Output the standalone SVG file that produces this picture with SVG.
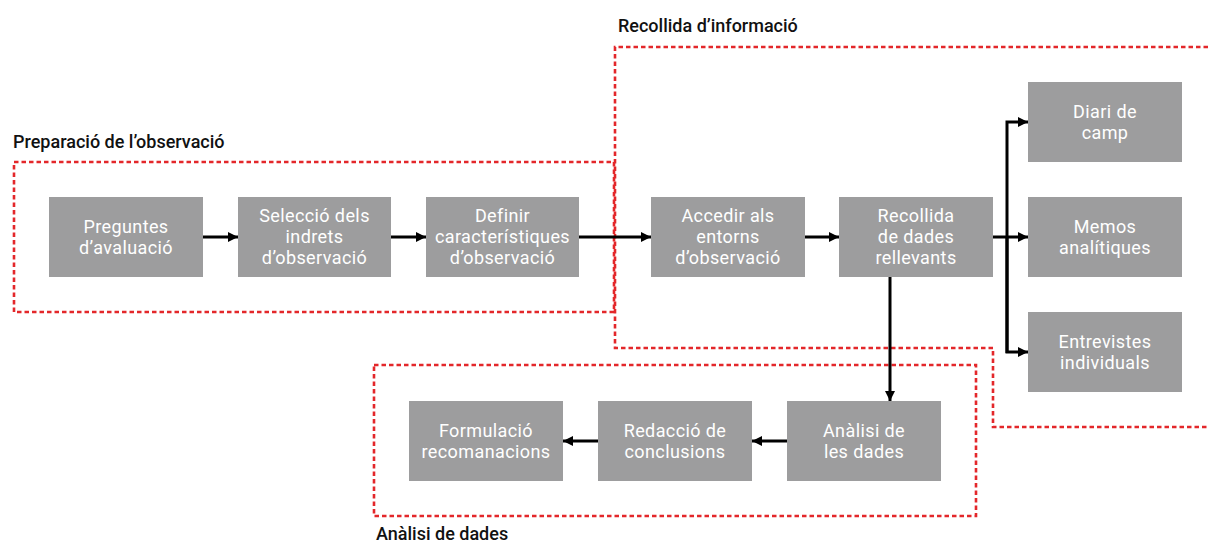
<svg xmlns="http://www.w3.org/2000/svg" width="1208" height="544" viewBox="0 0 1208 544">
<defs>
<style>
.grp{fill:none;stroke:#e3272a;stroke-width:2.6;stroke-dasharray:4.5 3}
.box{fill:#9d9d9e}
.bt{fill:#ffffff;font-family:Roboto,"Liberation Sans",sans-serif;font-size:18px;letter-spacing:0.4px;text-anchor:middle}
.lbl{fill:#111111;font-family:Roboto,"Liberation Sans",sans-serif;font-size:18px;font-weight:500}
.c{fill:none;stroke:#000;stroke-width:3}
</style>
<marker id="ah" viewBox="0 0 10 10" refX="10" refY="5" markerWidth="10" markerHeight="11" markerUnits="userSpaceOnUse" orient="auto">
<path d="M0,0 L10,5 L0,10 Z" fill="#000"/>
</marker>
</defs>
<rect width="1208" height="544" fill="#fff"/>
<g id="groups">
<rect class="grp" x="14" y="162" width="600" height="150"/>
<path class="grp" d="M1208,47 H615 V348 H993 V427 H1208"/>
<rect class="grp" x="374" y="365" width="602" height="151"/>
<text class="lbl" x="13" y="148">Preparació de l’observació</text>
<text class="lbl" x="618" y="32">Recollida d’informació</text>
<text class="lbl" x="376" y="540">Anàlisi de dades</text>
</g>
<g id="connectors">
<path class="c" d="M203,237 H238" marker-end="url(#ah)"/>
<path class="c" d="M391,237 H426" marker-end="url(#ah)"/>
<path class="c" d="M579,237 H651" marker-end="url(#ah)"/>
<path class="c" d="M805,237 H839" marker-end="url(#ah)"/>
<path class="c" d="M993,237 H1028" marker-end="url(#ah)"/>
<path class="c" d="M1007,353 V122 H1028" marker-end="url(#ah)"/>
<path class="c" d="M1007,237 V352 H1028" marker-end="url(#ah)"/>
<path class="c" d="M890,277 V401" marker-end="url(#ah)"/>
<path class="c" d="M787,441 H752" marker-end="url(#ah)"/>
<path class="c" d="M598,441 H563" marker-end="url(#ah)"/>
</g>
<g id="n1"><rect class="box" x="49" y="197" width="154" height="80"/><text class="bt" x="126" y="233">Preguntes</text><text class="bt" x="126" y="254">d’avaluació</text></g>
<g id="n2"><rect class="box" x="238" y="197" width="153" height="80"/><text class="bt" x="314.5" y="222">Selecció dels</text><text class="bt" x="314.5" y="243">indrets</text><text class="bt" x="314.5" y="264">d’observació</text></g>
<g id="n3"><rect class="box" x="426" y="197" width="153" height="80"/><text class="bt" x="502.5" y="222">Definir</text><text class="bt" x="502.5" y="243">característiques</text><text class="bt" x="502.5" y="264">d’observació</text></g>
<g id="n4"><rect class="box" x="651" y="197" width="154" height="80"/><text class="bt" x="728" y="222">Accedir als</text><text class="bt" x="728" y="243">entorns</text><text class="bt" x="728" y="264">d’observació</text></g>
<g id="n5"><rect class="box" x="839" y="197" width="154" height="80"/><text class="bt" x="916" y="222">Recollida</text><text class="bt" x="916" y="243">de dades</text><text class="bt" x="916" y="264">rellevants</text></g>
<g id="n6"><rect class="box" x="1028" y="82" width="154" height="80"/><text class="bt" x="1105" y="118">Diari de</text><text class="bt" x="1105" y="139">camp</text></g>
<g id="n7"><rect class="box" x="1028" y="197" width="154" height="80"/><text class="bt" x="1105" y="233">Memos</text><text class="bt" x="1105" y="254">analítiques</text></g>
<g id="n8"><rect class="box" x="1028" y="312" width="154" height="80"/><text class="bt" x="1105" y="348">Entrevistes</text><text class="bt" x="1105" y="369">individuals</text></g>
<g id="n9"><rect class="box" x="787" y="401" width="154" height="80"/><text class="bt" x="864" y="437">Anàlisi de</text><text class="bt" x="864" y="458">les dades</text></g>
<g id="n10"><rect class="box" x="598" y="401" width="154" height="80"/><text class="bt" x="675" y="437">Redacció de</text><text class="bt" x="675" y="458">conclusions</text></g>
<g id="n11"><rect class="box" x="409" y="401" width="154" height="80"/><text class="bt" x="486" y="437">Formulació</text><text class="bt" x="486" y="458">recomanacions</text></g>
</svg>
